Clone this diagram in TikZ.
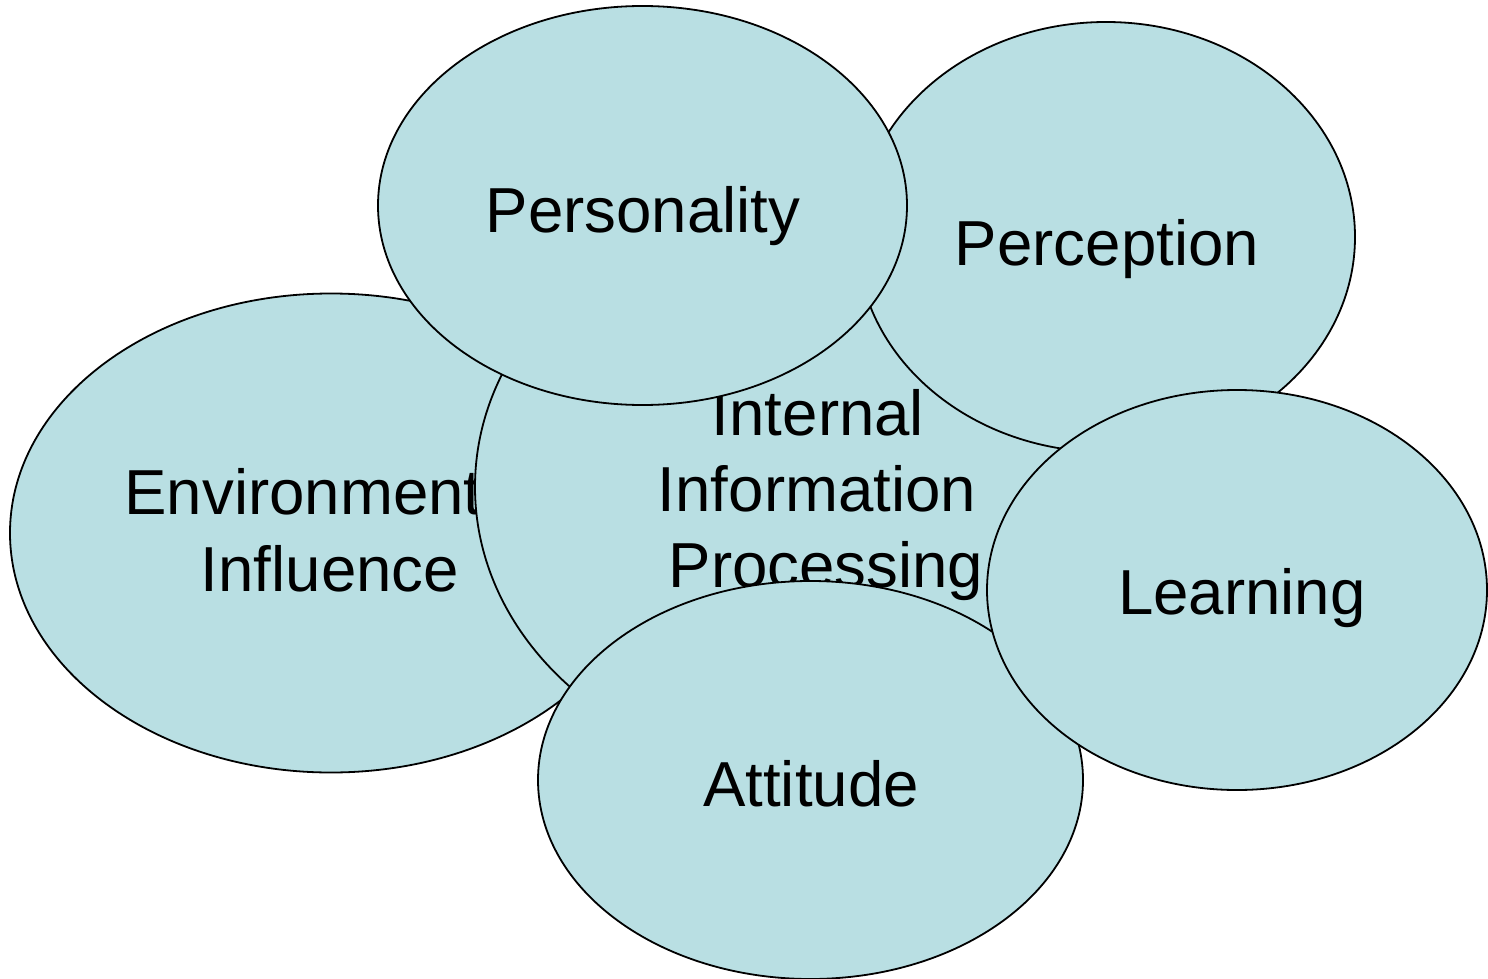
\documentclass[tikz,border=0pt]{standalone}
\usepackage{fontspec}
\setmainfont{Liberation Sans}
\usetikzlibrary{shapes.geometric}
\definecolor{bubblefill}{HTML}{B9DFE3}
\begin{document}
\begin{tikzpicture}[x=1pt,y=-1pt,
  bubble/.style={ellipse, draw=black, line width=1.8pt, fill=bubblefill, inner sep=0pt},
  lbl/.style={anchor=base, inner sep=0pt, font=\fontsize{63.6}{72}\selectfont}]
\useasboundingbox (0,0) rectangle (1488,979);
% Environment Influence
\node[bubble, minimum width=642pt, minimum height=479pt] (env) at (331,533) {};
\node[lbl] (envA) at (303,514) {Environment};
\node[lbl] (envB) at (330,591) {Influence};
% Internal Information Processing
\node[bubble, minimum width=690pt, minimum height=580pt] (iip) at (820,487) {};
\node[lbl] (iipA) at (818,435) {Internal};
\node[lbl] (iipB) at (817,511) {Information};
\node[lbl] (iipC) at (826,587) {Processing};
% Perception
\node[bubble, minimum width=498pt, minimum height=430pt] (per) at (1106,237) {};
\node[lbl] (perT) at (1107,265) {Perception};
% Personality
\node[bubble, minimum width=529pt, minimum height=399pt] (pers) at (642.5,205.5) {};
\node[lbl] (persT) at (643,232) {Personality};
% Attitude
\node[bubble, minimum width=545pt, minimum height=398pt] (att) at (810.5,780) {};
\node[lbl] (attT) at (811,806) {Attitude};
% Learning
\node[bubble, minimum width=500pt, minimum height=400pt] (lea) at (1237,590) {};
\node[lbl] (leaT) at (1242,614) {Learning};
\end{tikzpicture}
\end{document}
